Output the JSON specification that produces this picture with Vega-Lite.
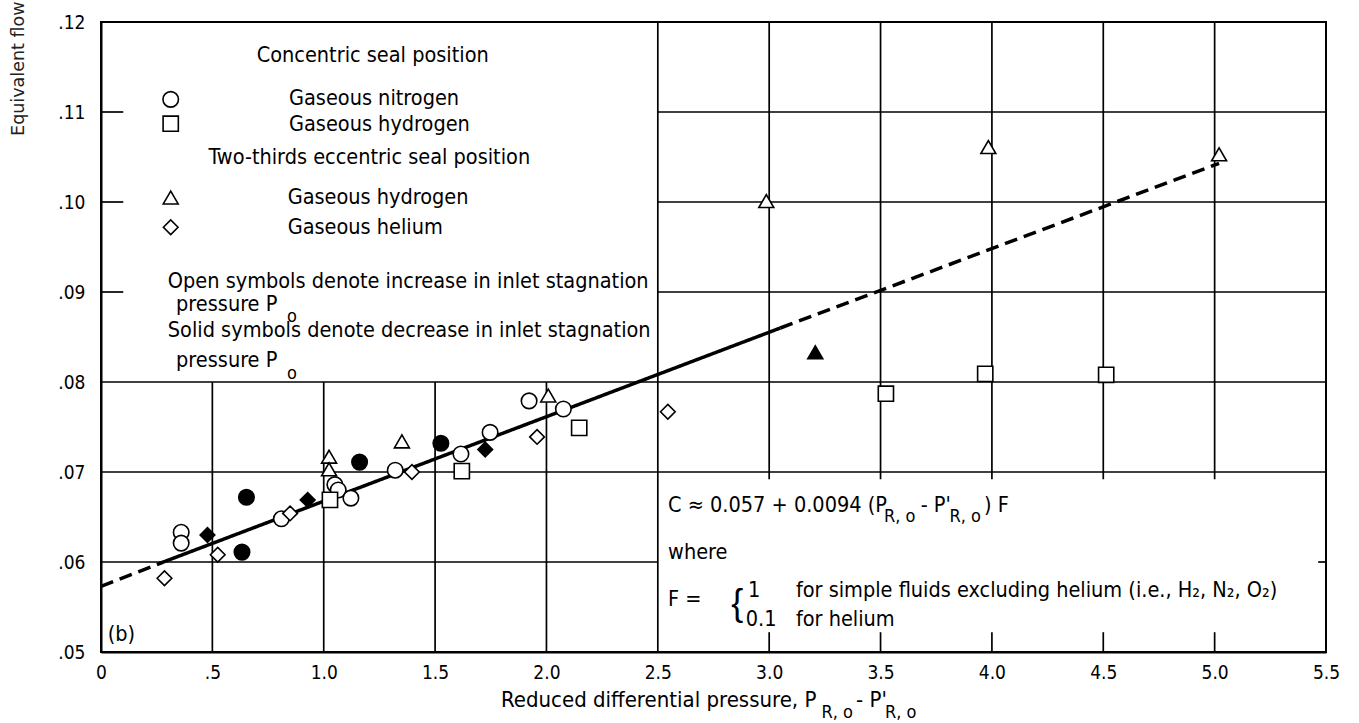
{
  "$schema": "https://vega.github.io/schema/vega-lite/v6.json",
  "width": 1225,
  "height": 630,
  "autosize": {"type": "none"},
  "padding": {"left": 101, "top": 22, "right": 33, "bottom": 71},
  "background": "white",
  "config": {
    "view": {"stroke": "black", "strokeWidth": 2},
    "axisX": {
      "tickCount": 11,
      "labelExpr": "datum.value == 0 ? '0' : datum.value == 0.5 ? '.5' : format(datum.value, '.1f')",
      "grid": false, "domain": true, "domainColor": "black", "domainWidth": 2,
      "ticks": false,
      "labelFont": "DejaVu Sans Condensed, Liberation Sans Narrow, sans-serif", "labelFontSize": 19, "labelColor": "black",
      "labelPadding": 11, "labelFlush": false, "labelOverlap": false
    },
    "axisY": {
      "tickCount": 7,
      "labelExpr": "substring(format(datum.value, '.2f'), 1)",
      "grid": false, "domain": true, "domainColor": "black", "domainWidth": 2,
      "ticks": false,
      "labelFont": "DejaVu Sans Condensed, Liberation Sans Narrow, sans-serif", "labelFontSize": 19, "labelColor": "black",
      "labelPadding": 16, "labelFlush": false, "labelOverlap": false,
      "titleFont": "DejaVu Sans", "titleFontSize": 17.5, "titleFontWeight": "normal", "titleColor": "#222",
      "titleAngle": 270, "titleAlign": "right", "titleBaseline": "middle", "titleX": -83, "titleY": -21
    }
  },
  "datasets": {
    "grid": [
      {"x1": 0.5, "x2": 0.5, "y1": 0.05, "y2": 0.08},
      {"x1": 1.0, "x2": 1.0, "y1": 0.05, "y2": 0.08},
      {"x1": 1.5, "x2": 1.5, "y1": 0.05, "y2": 0.08},
      {"x1": 2.0, "x2": 2.0, "y1": 0.05, "y2": 0.08},
      {"x1": 2.5, "x2": 2.5, "y1": 0.05, "y2": 0.12},
      {"x1": 3.0, "x2": 3.0, "y1": 0.0692, "y2": 0.12},
      {"x1": 3.5, "x2": 3.5, "y1": 0.0692, "y2": 0.12},
      {"x1": 4.0, "x2": 4.0, "y1": 0.0692, "y2": 0.12},
      {"x1": 4.5, "x2": 4.5, "y1": 0.0692, "y2": 0.12},
      {"x1": 5.0, "x2": 5.0, "y1": 0.0692, "y2": 0.12},
      {"x1": 3.0, "x2": 3.0, "y1": 0.05, "y2": 0.0522},
      {"x1": 3.5, "x2": 3.5, "y1": 0.05, "y2": 0.0522},
      {"x1": 4.0, "x2": 4.0, "y1": 0.05, "y2": 0.0522},
      {"x1": 4.5, "x2": 4.5, "y1": 0.05, "y2": 0.0522},
      {"x1": 5.0, "x2": 5.0, "y1": 0.05, "y2": 0.0522},
      {"x1": 0, "x2": 2.5, "y1": 0.06, "y2": 0.06},
      {"x1": 5.465, "x2": 5.5, "y1": 0.06, "y2": 0.06},
      {"x1": 0, "x2": 5.5, "y1": 0.07, "y2": 0.07},
      {"x1": 0, "x2": 5.5, "y1": 0.08, "y2": 0.08},
      {"x1": 2.5, "x2": 5.5, "y1": 0.09, "y2": 0.09},
      {"x1": 2.5, "x2": 5.5, "y1": 0.10, "y2": 0.10},
      {"x1": 2.5, "x2": 5.5, "y1": 0.11, "y2": 0.11},
      {"x1": 0, "x2": 0.1, "y1": 0.09, "y2": 0.09},
      {"x1": 0, "x2": 0.1, "y1": 0.10, "y2": 0.10},
      {"x1": 0, "x2": 0.1, "y1": 0.11, "y2": 0.11}
    ],
    "fit": [
      {"seg": "a", "style": "dashed", "x": 0, "y": 0.0573},
      {"seg": "a", "style": "dashed", "x": 0.28, "y": 0.0600},
      {"seg": "b", "style": "solid", "x": 0.28, "y": 0.0600},
      {"seg": "b", "style": "solid", "x": 3.05, "y": 0.0860},
      {"seg": "c", "style": "dashed", "x": 3.05, "y": 0.0860},
      {"seg": "c", "style": "dashed", "x": 5.02, "y": 0.1043}
    ],
    "points": [
      {"s": "N2c", "f": "open", "x": 0.36, "y": 0.0633},
      {"s": "N2c", "f": "open", "x": 0.36, "y": 0.0621},
      {"s": "N2c", "f": "open", "x": 0.81, "y": 0.0648},
      {"s": "N2c", "f": "open", "x": 1.05, "y": 0.0686},
      {"s": "N2c", "f": "open", "x": 1.065, "y": 0.0680},
      {"s": "N2c", "f": "open", "x": 1.122, "y": 0.0671},
      {"s": "N2c", "f": "open", "x": 1.321, "y": 0.0702},
      {"s": "N2c", "f": "open", "x": 1.616, "y": 0.0720},
      {"s": "N2c", "f": "open", "x": 1.747, "y": 0.0744},
      {"s": "N2c", "f": "open", "x": 1.922, "y": 0.0779},
      {"s": "N2c", "f": "open", "x": 2.076, "y": 0.0770},
      {"s": "N2c", "f": "solid", "x": 0.653, "y": 0.0672},
      {"s": "N2c", "f": "solid", "x": 0.633, "y": 0.0611},
      {"s": "N2c", "f": "solid", "x": 1.161, "y": 0.0711},
      {"s": "N2c", "f": "solid", "x": 1.526, "y": 0.0732},
      {"s": "H2c", "f": "open", "x": 1.028, "y": 0.0669},
      {"s": "H2c", "f": "open", "x": 1.62, "y": 0.0701},
      {"s": "H2c", "f": "open", "x": 2.147, "y": 0.0749},
      {"s": "H2c", "f": "open", "x": 3.524, "y": 0.0787},
      {"s": "H2c", "f": "open", "x": 3.97, "y": 0.0809},
      {"s": "H2c", "f": "open", "x": 4.513, "y": 0.0808},
      {"s": "H2e", "f": "open", "x": 1.024, "y": 0.0717},
      {"s": "H2e", "f": "open", "x": 1.024, "y": 0.0703},
      {"s": "H2e", "f": "open", "x": 1.351, "y": 0.0734},
      {"s": "H2e", "f": "open", "x": 2.008, "y": 0.0785},
      {"s": "H2e", "f": "open", "x": 2.987, "y": 0.1001},
      {"s": "H2e", "f": "open", "x": 3.984, "y": 0.1061},
      {"s": "H2e", "f": "open", "x": 5.02, "y": 0.1053},
      {"s": "H2e", "f": "solid", "x": 3.207, "y": 0.0833},
      {"s": "Hee", "f": "open", "x": 0.285, "y": 0.0582},
      {"s": "Hee", "f": "open", "x": 0.524, "y": 0.0608},
      {"s": "Hee", "f": "open", "x": 0.849, "y": 0.0654},
      {"s": "Hee", "f": "open", "x": 1.396, "y": 0.0700},
      {"s": "Hee", "f": "open", "x": 1.958, "y": 0.0739},
      {"s": "Hee", "f": "open", "x": 2.545, "y": 0.0767},
      {"s": "Hee", "f": "solid", "x": 0.478, "y": 0.0630},
      {"s": "Hee", "f": "solid", "x": 0.928, "y": 0.0669},
      {"s": "Hee", "f": "solid", "x": 1.725, "y": 0.0725}
    ],
    "legendSyms": [
      {"s": "N2c", "x": 0.313, "y": 0.1114},
      {"s": "H2c", "x": 0.313, "y": 0.1087},
      {"s": "H2e", "x": 0.313, "y": 0.1005},
      {"s": "Hee", "x": 0.313, "y": 0.0972}
    ],
    "textLeft": [
      {"x": 0.844, "y": 0.1114, "t": "Gaseous nitrogen"},
      {"x": 0.844, "y": 0.1086, "t": "Gaseous hydrogen"},
      {"x": 0.838, "y": 0.1004, "t": "Gaseous hydrogen"},
      {"x": 0.838, "y": 0.0971, "t": "Gaseous helium"},
      {"x": 0.30, "y": 0.0911, "t": "Open symbols denote increase in inlet stagnation"},
      {"x": 0.337, "y": 0.0886, "t": "pressure P"},
      {"x": 0.30, "y": 0.0857, "t": "Solid symbols denote decrease in inlet stagnation"},
      {"x": 0.337, "y": 0.0823, "t": "pressure P"},
      {"x": 0.03, "y": 0.0519, "t": "(b)"},
      {"x": 2.546, "y": 0.0662, "t": "C ≈ 0.057 + 0.0094 (P"},
      {"x": 3.68, "y": 0.0662, "t": "- P'"},
      {"x": 3.965, "y": 0.0662, "t": ") F"},
      {"x": 2.546, "y": 0.0610, "t": "where"},
      {"x": 2.546, "y": 0.0558, "t": "F ="},
      {"x": 2.905, "y": 0.0568, "t": "1"},
      {"x": 2.895, "y": 0.0536, "t": "0.1"},
      {"x": 3.12, "y": 0.0568, "t": "for simple fluids excluding helium (i.e., H₂, N₂, O₂)"},
      {"x": 3.12, "y": 0.0536, "t": "for helium"}
    ],
    "textCenter": [
      {"x": 1.22, "y": 0.1162, "t": "Concentric seal position"},
      {"x": 1.205, "y": 0.1049, "t": "Two-thirds eccentric seal position"}
    ],
    "xTitle": [
      {"x": 1.796, "y": 0.04467, "t": "Reduced differential pressure, P"},
      {"x": 3.39, "y": 0.04467, "t": "- P'"}
    ],
    "subs": [
      {"x": 0.835, "y": 0.0872, "t": "o"},
      {"x": 0.835, "y": 0.0809, "t": "o"},
      {"x": 3.515, "y": 0.0650, "t": "R, o"},
      {"x": 3.81, "y": 0.0650, "t": "R, o"},
      {"x": 3.235, "y": 0.0432, "t": "R, o"},
      {"x": 3.52, "y": 0.0432, "t": "R, o"}
    ],
    "brace": [{"x": 2.83, "y": 0.0553, "t": "{"}]
  },
  "layer": [
    {
      "data": {"name": "grid"},
      "mark": {"type": "rule", "color": "black", "strokeWidth": 1.7},
      "encoding": {
        "x": {"field": "x1", "type": "quantitative", "scale": {"domain": [0, 5.5], "nice": false, "zero": false}, "title": null},
        "x2": {"field": "x2"},
        "y": {"field": "y1", "type": "quantitative", "scale": {"domain": [0.05, 0.12], "nice": false, "zero": false}, "title": "Equivalent flow"},
        "y2": {"field": "y2"}
      }
    },
    {
      "data": {"name": "fit"},
      "mark": {"type": "line", "color": "black", "strokeWidth": 3.5},
      "encoding": {
        "x": {"field": "x", "type": "quantitative", "scale": {"domain": [0, 5.5], "nice": false, "zero": false}, "title": null},
        "y": {"field": "y", "type": "quantitative", "scale": {"domain": [0.05, 0.12], "nice": false, "zero": false}, "title": "Equivalent flow"},
        "detail": {"field": "seg"},
        "strokeDash": {"field": "style", "type": "nominal", "scale": {"domain": ["solid", "dashed"], "range": [[1, 0], [13, 7]]}, "legend": null}
      }
    },
    {
      "data": {"name": "points"},
      "mark": {"type": "point", "filled": false, "stroke": "black", "strokeWidth": 1.6, "opacity": 1},
      "encoding": {
        "x": {"field": "x", "type": "quantitative", "scale": {"domain": [0, 5.5], "nice": false, "zero": false}, "title": null},
        "y": {"field": "y", "type": "quantitative", "scale": {"domain": [0.05, 0.12], "nice": false, "zero": false}, "title": "Equivalent flow"},
        "shape": {"field": "s", "type": "nominal", "scale": {"domain": ["N2c", "H2c", "H2e", "Hee"], "range": ["circle", "square", "triangle-up", "diamond"]}, "legend": null},
        "size": {"field": "s", "type": "nominal", "scale": {"domain": ["N2c", "H2c", "H2e", "Hee"], "range": [240, 215, 320, 330]}, "legend": null},
        "fill": {"field": "f", "type": "nominal", "scale": {"domain": ["open", "solid"], "range": ["white", "black"]}, "legend": null}
      }
    },
    {
      "data": {"name": "legendSyms"},
      "mark": {"type": "point", "filled": false, "fill": "white", "stroke": "black", "strokeWidth": 1.6, "opacity": 1},
      "encoding": {
        "x": {"field": "x", "type": "quantitative", "scale": {"domain": [0, 5.5], "nice": false, "zero": false}, "title": null},
        "y": {"field": "y", "type": "quantitative", "scale": {"domain": [0.05, 0.12], "nice": false, "zero": false}, "title": "Equivalent flow"},
        "shape": {"field": "s", "type": "nominal", "legend": null},
        "size": {"field": "s", "type": "nominal", "legend": null}
      }
    },
    {
      "data": {"name": "textLeft"},
      "mark": {"type": "text", "align": "left", "baseline": "middle", "font": "DejaVu Sans Condensed, Liberation Sans Narrow, sans-serif", "fontSize": 21.5, "color": "black"},
      "encoding": {
        "x": {"field": "x", "type": "quantitative", "scale": {"domain": [0, 5.5], "nice": false, "zero": false}, "title": null},
        "y": {"field": "y", "type": "quantitative", "scale": {"domain": [0.05, 0.12], "nice": false, "zero": false}, "title": "Equivalent flow"},
        "text": {"field": "t"}
      }
    },
    {
      "data": {"name": "textCenter"},
      "mark": {"type": "text", "align": "center", "baseline": "middle", "font": "DejaVu Sans Condensed, Liberation Sans Narrow, sans-serif", "fontSize": 21.5, "color": "black"},
      "encoding": {
        "x": {"field": "x", "type": "quantitative", "scale": {"domain": [0, 5.5], "nice": false, "zero": false}, "title": null},
        "y": {"field": "y", "type": "quantitative", "scale": {"domain": [0.05, 0.12], "nice": false, "zero": false}, "title": "Equivalent flow"},
        "text": {"field": "t"}
      }
    },
    {
      "data": {"name": "xTitle"},
      "mark": {"type": "text", "align": "left", "baseline": "middle", "font": "DejaVu Sans Condensed, Liberation Sans Narrow, sans-serif", "fontSize": 22, "color": "black"},
      "encoding": {
        "x": {"field": "x", "type": "quantitative", "scale": {"domain": [0, 5.5], "nice": false, "zero": false}, "title": null},
        "y": {"field": "y", "type": "quantitative", "scale": {"domain": [0.05, 0.12], "nice": false, "zero": false}, "title": "Equivalent flow"},
        "text": {"field": "t"}
      }
    },
    {
      "data": {"name": "subs"},
      "mark": {"type": "text", "align": "left", "baseline": "middle", "font": "DejaVu Sans Condensed, Liberation Sans Narrow, sans-serif", "fontSize": 18, "color": "black"},
      "encoding": {
        "x": {"field": "x", "type": "quantitative", "scale": {"domain": [0, 5.5], "nice": false, "zero": false}, "title": null},
        "y": {"field": "y", "type": "quantitative", "scale": {"domain": [0.05, 0.12], "nice": false, "zero": false}, "title": "Equivalent flow"},
        "text": {"field": "t"}
      }
    },
    {
      "data": {"name": "brace"},
      "mark": {"type": "text", "align": "left", "baseline": "middle", "font": "Liberation Sans", "fontSize": 36, "color": "black"},
      "encoding": {
        "x": {"field": "x", "type": "quantitative", "scale": {"domain": [0, 5.5], "nice": false, "zero": false}, "title": null},
        "y": {"field": "y", "type": "quantitative", "scale": {"domain": [0.05, 0.12], "nice": false, "zero": false}, "title": "Equivalent flow"},
        "text": {"field": "t"}
      }
    }
  ]
}
